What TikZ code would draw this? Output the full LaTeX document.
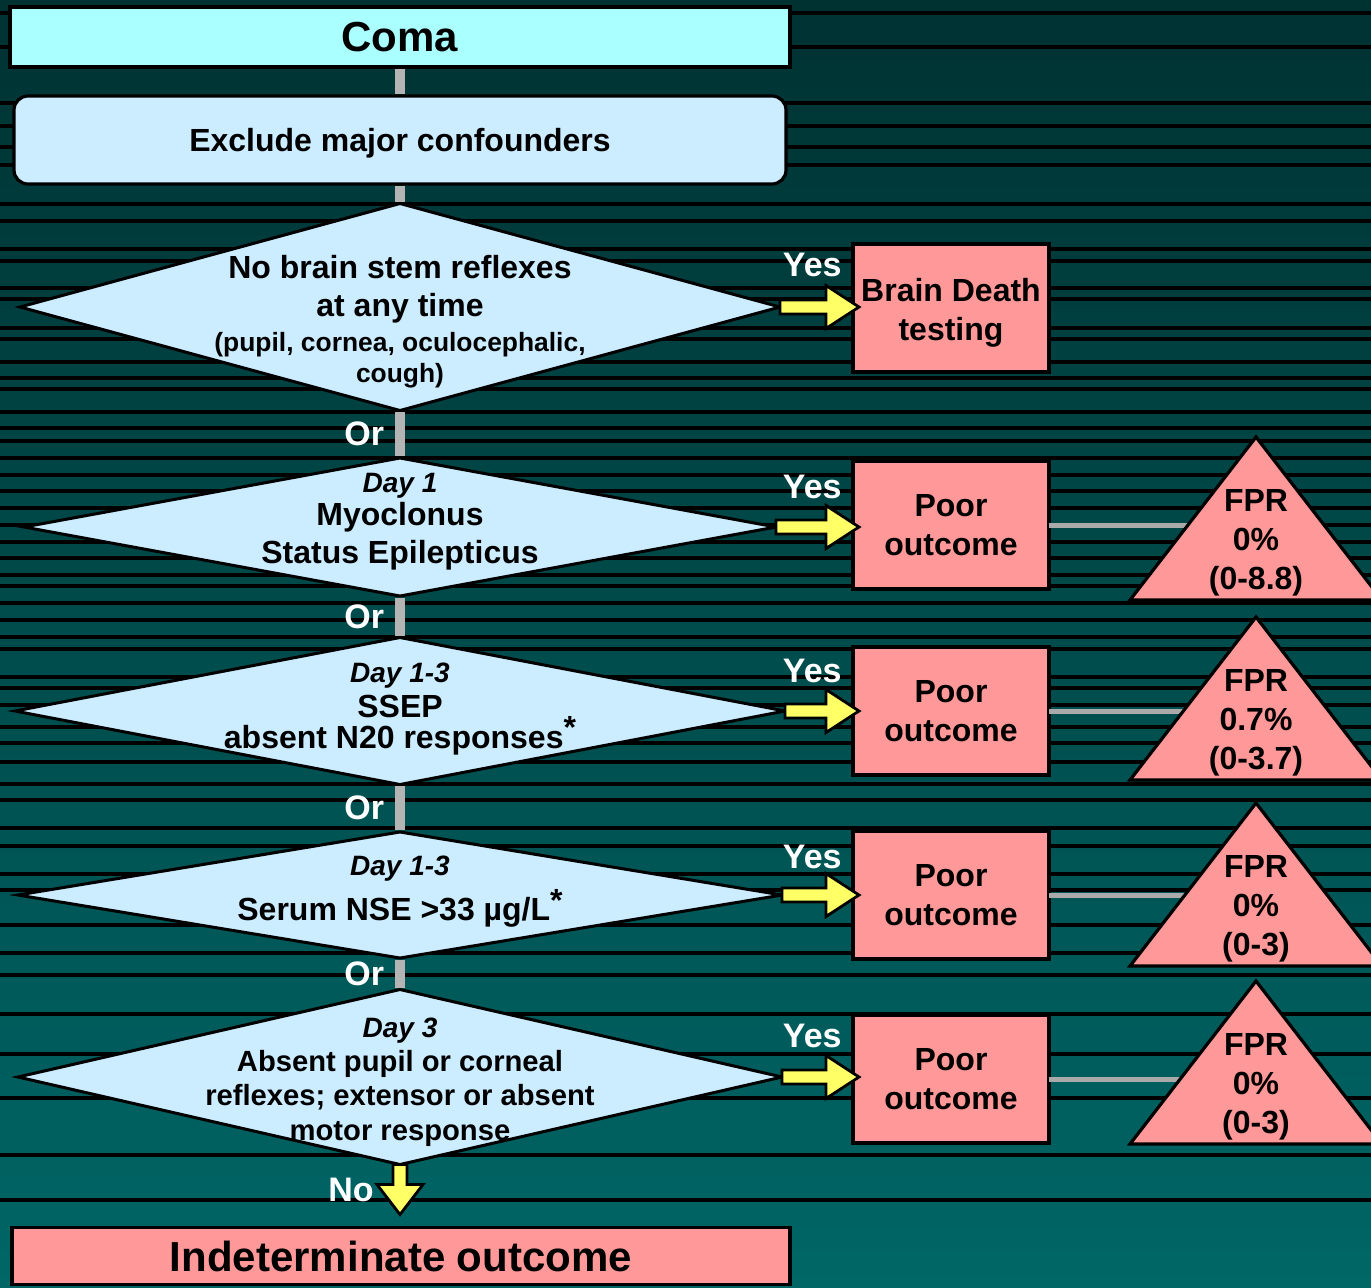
\documentclass[tikz,border=0pt]{standalone}
\usepackage{fontspec}
\setmainfont{Liberation Sans}
\usetikzlibrary{positioning, calc, shapes.geometric}

\definecolor{comacyan}{HTML}{AAFFFF}
\definecolor{paleblue}{HTML}{CCECFF}
\definecolor{salmon}{HTML}{FF9999}
\definecolor{arrowyellow}{HTML}{FFFF66}
\definecolor{linkgrey}{HTML}{B4B4B4}
\definecolor{fprgrey}{HTML}{AAAAAA}
\definecolor{bgtop}{HTML}{003232}
\definecolor{bgbottom}{HTML}{006666}

\begin{document}
\begin{tikzpicture}[
  x=0.5pt, y=-0.5pt,
  stripe/.style  = {black, line width=2pt},
  box/.style     = {draw, line width=1.6pt, rectangle, inner sep=0pt, outer sep=0pt, align=center},
  outbox/.style  = {box, fill=salmon, minimum width=98pt, minimum height=64pt,
                    font=\fontsize{16}{19.5}\selectfont\bfseries},
  dec/.style     = {draw, line width=1.5pt, diamond, fill=paleblue, inner sep=0pt, outer sep=0pt},
  dectext/.style = {align=center, inner sep=0pt, font=\fontsize{16}{19}\selectfont\bfseries},
  lbl/.style     = {text=white, inner sep=0pt, font=\fontsize{17}{20}\selectfont\bfseries},
  orl/.style     = {lbl, anchor=east, xshift=-5.5pt},
  link/.style    = {draw=linkgrey, line width=5pt, shorten <=0.8pt, shorten >=0.8pt},
  fprlink/.style = {draw=fprgrey, line width=2.5pt},
  tri/.style     = {draw, fill=salmon, line width=1.6pt, line join=miter},
  fpr/.style     = {align=center, inner sep=0pt, font=\fontsize{16}{19.5}\selectfont\bfseries},
  yesarrow/.style = {draw, fill=arrowyellow, line width=1.4pt, line join=miter,
    to path={let \p1=(\tikztostart), \p2=(\tikztotarget) in
      (\x1,\y1+3.5pt) -- (\x2-16.5pt,\y1+3.5pt) -- (\x2-16.5pt,\y1+10.75pt) -- (\x2,\y1)
      -- (\x2-16.5pt,\y1-10.75pt) -- (\x2-16.5pt,\y1-3.5pt) -- (\x1,\y1-3.5pt) -- cycle}},
  noarrow/.style = {draw, fill=arrowyellow, line width=1.4pt, line join=miter,
    to path={let \p1=(\tikztostart), \p2=(\tikztotarget) in
      (\x1+3.5pt,\y1) -- (\x1+3.5pt,\y2+15pt) -- (\x1+11.5pt,\y2+15pt) -- (\x1,\y2)
      -- (\x1-11.5pt,\y2+15pt) -- (\x1-3.5pt,\y2+15pt) -- (\x1-3.5pt,\y1) -- cycle}},
]
  % ---- background with banded stripes ----
  \useasboundingbox (0,0) rectangle (1371,1287);
  \shade[top color=bgtop, bottom color=bgbottom] (0,0) rectangle (1371,1287);
  \foreach \s in {13,47,103,126,147,165,204,221,249,261,288,299,328,339,362,378,389,412,
                  428,441,458,475,491,508,525,542,558,575,586,603,620,637,649,677,688,705,
                  727,743,762,784,800,828,846,874,890,925,953,975,1014,1054,1098,1155,1200}
    \draw[stripe] (0,\s) -- (1371,\s);

  % ---- main column ----
  \node[box, fill=comacyan, minimum width=390pt, minimum height=30pt,
        font=\fontsize{21}{25}\selectfont\bfseries]                   (coma) at (400,37)  {Coma};
  \node[box, fill=paleblue, rounded corners=7pt, minimum width=386pt, minimum height=44pt,
        text depth=0.4pt, font=\fontsize{16}{19}\selectfont\bfseries] (excl) at (400,140) {Exclude major confounders};

  \node[dec, minimum width=380pt, minimum height=103.5pt] (d1) at (400,307)  {};
  \node[dec, minimum width=376pt, minimum height=69pt]    (d2) at (400,527)  {};
  \node[dec, minimum width=385pt, minimum height=73.5pt]  (d3) at (400,711)  {};
  \node[dec, minimum width=382pt, minimum height=63pt]    (d4) at (400,895)  {};
  \node[dec, minimum width=382pt, minimum height=87.5pt]  (d5) at (400,1077) {};

  \node[dectext] (d1t) at (400,322) {No brain stem reflexes\\
    at any time\\[-1.5pt]
    \fontsize{13.2}{19}\selectfont (pupil, cornea, oculocephalic,\\[-3.5pt]
    \fontsize{13.2}{19}\selectfont cough)};
  \node[dectext] (d2t) at (400,522) {\fontsize{14}{19}\selectfont\itshape Day 1\\[-2.5pt]
    \upshape Myoclonus\\
    \upshape Status Epilepticus};
  \node[dectext] (d3t) at (400,709) {\fontsize{14}{19}\selectfont\itshape Day 1-3\\[-1.5pt]
    \upshape SSEP\\[-3.5pt]
    \upshape absent N20 responses\raisebox{0.3em}{*}};
  \node[dectext] (d4t) at (400,892) {\fontsize{14}{19}\selectfont\itshape Day 1-3\\[3.5pt]
    \upshape Serum NSE >33 µg/L\raisebox{0.3em}{*}};
  \node[dectext, font=\fontsize{14.6}{17.2}\selectfont\bfseries] (d5t) at (400,1082)
    {\fontsize{14}{17.2}\selectfont\itshape Day 3\\
    \upshape Absent pupil or corneal\\
    \upshape reflexes; extensor or absent\\
    \upshape motor response};

  \node[box, fill=salmon, minimum width=389pt, minimum height=28.5pt,
        font=\fontsize{21}{25}\selectfont\bfseries]                   (ind) at (401,1256) {Indeterminate outcome};

  % ---- connectors down the column ----
  \draw[link] (coma) -- (excl);
  \draw[link] (excl) -- (d1);
  \draw[link] (d1) -- node[orl] {Or} (d2);
  \draw[link] (d2) -- node[orl] {Or} (d3);
  \draw[link] (d3) -- node[orl] {Or} (d4);
  \draw[link] (d4) -- node[orl] {Or} (d5);

  \draw[noarrow] (d5.south) to ([yshift=6.5pt]ind.north);
  \node[lbl, anchor=east] (nolbl) at (374,1190) {No};

  % ---- outcomes on the right ----
  \node[outbox] (bd) at (951,308) {\rule{0pt}{16.5pt}Brain Death\\testing};
  \node[outbox] (p1) at (951,525)  {Poor\\outcome};
  \node[outbox] (p2) at (951,711)  {Poor\\outcome};
  \node[outbox] (p3) at (951,895)  {Poor\\outcome};
  \node[outbox] (p4) at (951,1079) {Poor\\outcome};

  \draw[yesarrow] (d1.east) to ([xshift=3pt]bd.west);
  \draw[yesarrow] (d2.east) to ([xshift=3pt]p1.west);
  \draw[yesarrow] (d3.east) to ([xshift=3pt]p2.west);
  \draw[yesarrow] (d4.east) to ([xshift=3pt]p3.west);
  \draw[yesarrow] (d5.east) to ([xshift=3pt]p4.west);

  \node[lbl, anchor=east] (yes0) at ([xshift=-5.5pt, yshift=-10.5pt]bd.north west) {Yes};
  \node[lbl, anchor=east] (yes1) at ([xshift=-5.5pt, yshift=-13pt]p1.north west)   {Yes};
  \node[lbl, anchor=east] (yes2) at ([xshift=-5.5pt, yshift=-12pt]p2.north west)   {Yes};
  \node[lbl, anchor=east] (yes3) at ([xshift=-5.5pt, yshift=-13pt]p3.north west)   {Yes};
  \node[lbl, anchor=east] (yes4) at ([xshift=-5.5pt, yshift=-10.5pt]p4.north west) {Yes};

  % ---- false positive rates ----
  \foreach \i/\ty/\fa/\fb in {1/437/0\%/(0-8.8), 2/617/0.7\%/(0-3.7),
                              3/803/0\%/(0-3), 4/981/0\%/(0-3)} {
    \coordinate (c\i) at (1256,\ty);
    \draw[fprlink] (p\i.east) -- (p\i.east -| c\i);
    \draw[tri] (c\i) -- ++(-126,163) -- ++(252,0) -- cycle;
    \node[fpr] (t\i) at (1256,\ty+106) {FPR\\\fa\\\fb};
  }
\end{tikzpicture}
\end{document}
